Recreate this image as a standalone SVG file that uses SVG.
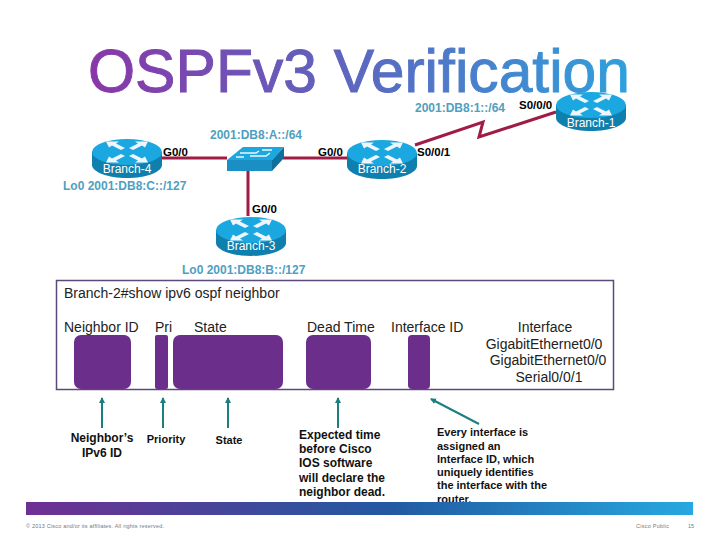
<svg xmlns="http://www.w3.org/2000/svg" xmlns:xlink="http://www.w3.org/1999/xlink" width="720" height="540" viewBox="0 0 720 540">
<style>
text{font-family:"Liberation Sans",Arial,sans-serif}
.title{font-size:62px}
.net{font-size:12px;font-weight:bold;fill:#4f9fc0}
.if{font-size:11.500px;font-weight:bold;fill:#000}
.rn{font-size:12px;fill:#fff;text-anchor:middle}
.cli{font-size:14px;fill:#222}
.cap{font-size:11px;font-weight:bold;fill:#111}
.cap12{font-size:12px}
.mid{text-anchor:middle}
.foot{font-size:5.500px;fill:#777}
.link{fill:none;stroke:#a01c45;stroke-width:3}
.blk{fill:#6b2f8b}
.arr{stroke:#1a7f7f;stroke-width:2;fill:none;marker-end:url(#ah)}
</style>
<defs>
<linearGradient id="tg" gradientUnits="userSpaceOnUse" x1="88" y1="0" x2="630" y2="0"><stop offset="0" stop-color="#8a36a8"/><stop offset=".5" stop-color="#5b68c0"/><stop offset="1" stop-color="#2fa0dc"/></linearGradient>
<linearGradient id="bg" gradientUnits="userSpaceOnUse" x1="26" y1="0" x2="693" y2="0"><stop offset="0" stop-color="#6f2f92"/><stop offset=".55" stop-color="#215aa2"/><stop offset="1" stop-color="#27a8e0"/></linearGradient>
<marker id="ah" markerUnits="userSpaceOnUse" markerWidth="8" markerHeight="8" refX="5" refY="3" orient="auto"><path d="M0 0L6 3L0 6z" fill="#1a7f7f"/></marker>
<g id="r">
<path d="M0 13V26C0 33 16 39 35 39S70 33 70 26V13z" fill="#0f7fae"/>
<ellipse cx="35" cy="13" rx="35" ry="13" fill="#1ba8e0"/>
<path d="M14 2.500H27L24 4.500L33 9L29 11L20 6.500L17 8.500zM56 2.500H43L46 4.500L37 9L41 11L50 6.500L53 8.500zM14 23.500H27L24 21.500L33 17L29 15L20 19.500L17 17.500zM56 23.500H43L46 21.500L37 17L41 15L50 19.500L53 17.500z" fill="#eef6fb"/>
</g>
</defs>
<text class="title" x="88" y="92" fill="url(#tg)" stroke="url(#tg)" stroke-width="1" textLength="542" lengthAdjust="spacingAndGlyphs">OSPFv3 Verification</text>
<g id="connectors">
<path class="link" d="M162 158H227M283 158H347M248 171V216"/>
<path class="link" d="M415 145L483 122L479 137L556 112"/>
</g>
<g id="branch-1"><use xlink:href="#r" x="556" y="92"/><text class="rn" x="591" y="127">Branch-1</text></g>
<g id="branch-2"><use xlink:href="#r" x="347" y="140"/><text class="rn" x="382" y="173">Branch-2</text></g>
<g id="branch-3"><use xlink:href="#r" x="216" y="217"/><text class="rn" x="251" y="250">Branch-3</text></g>
<g id="branch-4"><use xlink:href="#r" x="92" y="139"/><text class="rn" x="127" y="173">Branch-4</text></g>
<g id="switch">
<path d="M227 160L243 147H284L272 160z" fill="#1ba8e0"/>
<path d="M227 160H272V171H227z" fill="#1a8fc4"/>
<path d="M272 160L284 147V158L272 171z" fill="#0f6f9e"/>
<path d="M240 153H256L259 151M250 156H266L270 153M262 150H272M236 157H244" stroke="#eef6fb" stroke-width="1.500" fill="none"/>
</g>
<g id="labels">
<text class="net" x="415" y="112">2001:DB8:1::/64</text>
<text class="net" x="210" y="139">2001:DB8:A::/64</text>
<text class="net" x="63" y="190">Lo0 2001:DB8:C::/127</text>
<text class="net" x="182" y="274">Lo0 2001:DB8:B::/127</text>
<text class="if" x="519" y="109">S0/0/0</text>
<text class="if" x="417" y="156">S0/0/1</text>
<text class="if" x="163" y="156">G0/0</text>
<text class="if" x="318" y="156">G0/0</text>
<text class="if" x="252" y="213">G0/0</text>
</g>
<g id="table">
<rect x="56.500" y="280.500" width="557" height="109" fill="#fff" stroke="#5a4a78" stroke-width="1.500"/>
<text class="cli" x="64" y="298">Branch-2#show ipv6 ospf neighbor</text>
<text class="cli" x="64" y="332">Neighbor ID</text>
<text class="cli" x="155" y="332">Pri</text>
<text class="cli" x="194" y="332">State</text>
<text class="cli" x="307" y="332">Dead Time</text>
<text class="cli" x="391" y="332">Interface ID</text>
<text class="cli mid" x="545" y="332">Interface</text>
<text class="cli mid" x="544" y="349">GigabitEthernet0/0</text>
<text class="cli mid" x="548" y="365">GigabitEthernet0/0</text>
<text class="cli mid" x="549" y="382">Serial0/0/1</text>
<rect class="blk" x="74" y="335" width="57" height="54" rx="7"/>
<rect class="blk" x="155" y="335" width="13" height="54" rx="2"/>
<rect class="blk" x="173" y="335" width="110" height="54" rx="7"/>
<rect class="blk" x="306" y="335" width="65" height="54" rx="7"/>
<rect class="blk" x="408" y="335" width="22" height="54" rx="4"/>
</g>
<g id="callouts">
<path class="arr" d="M102 428V398"/>
<path class="arr" d="M163 428V398"/>
<path class="arr" d="M228 428V398"/>
<path class="arr" d="M338 428V398"/>
<path class="arr" d="M479 424L431 399"/>
<text class="cap cap12 mid" x="102" y="442">Neighbor’s</text>
<text class="cap cap12 mid" x="102" y="457">IPv6 ID</text>
<text class="cap mid" x="166" y="443">Priority</text>
<text class="cap mid" x="229" y="444">State</text>
<text class="cap cap12" x="299" y="439">Expected time</text>
<text class="cap cap12" x="299" y="453">before Cisco</text>
<text class="cap cap12" x="299" y="467">IOS software</text>
<text class="cap cap12" x="299" y="482">will declare the</text>
<text class="cap cap12" x="299" y="496">neighbor dead.</text>
<text class="cap" x="437" y="436">Every interface is</text>
<text class="cap" x="437" y="450">assigned an</text>
<text class="cap" x="437" y="463">Interface ID, which</text>
<text class="cap" x="437" y="476">uniquely identifies</text>
<text class="cap" x="437" y="489">the interface with the</text>
<text class="cap" x="437" y="503">router.</text>
</g>
<rect id="bar" x="26" y="502" width="667" height="13" fill="url(#bg)"/>
<g id="footer">
<text class="foot" x="26" y="528" textLength="138">© 2013 Cisco and/or its affiliates. All rights reserved.</text>
<text class="foot" x="636" y="528" textLength="33">Cisco Public</text>
<text class="foot" x="688" y="528">15</text>
</g>
</svg>
